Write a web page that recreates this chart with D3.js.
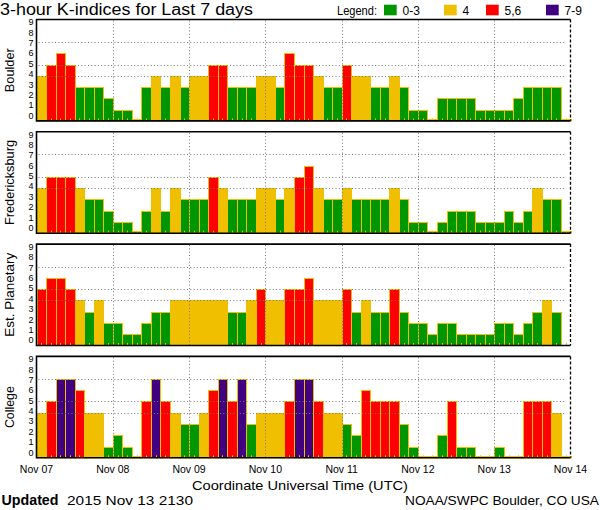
<!DOCTYPE html>
<html><head><meta charset="utf-8">
<script src="https://cdn.jsdelivr.net/npm/d3@7/dist/d3.min.js"></script>
<style>
html,body{margin:0;padding:0;background:#fff;}
svg{display:block;}
text{font-family:"Liberation Sans",Arial,sans-serif;fill:#000;}
</style></head>
<body>
<svg id="chart" width="600" height="510"></svg>
<script>
// ---- data ----
const stations = ["Boulder", "Fredericksburg", "Est. Planetary", "College"];
const boulder = [4,5,6,5,3,3,3,2, 1,1,0,3,4,3,4,3, 4,4,5,5,3,3,3,4, 4,3,6,5,5,4,3,3, 5,4,4,3,3,4,3,1, 1,0,2,2,2,2,1,1, 1,1,2,3,3,3,3,0];
const fredericksburg = [4,5,5,5,4,3,3,2, 1,1,0,2,4,2,4,3, 3,3,5,4,3,3,3,4, 4,3,4,5,6,4,3,3, 4,3,3,3,3,4,3,1, 1,0,1,2,2,2,1,1, 1,2,1,2,4,3,3,0];
const planetary = [5,6,6,5,4,3,4,2, 2,1,1,2,3,3,4,4, 4,4,4,4,3,3,4,5, 4,4,5,5,6,4,4,4, 5,3,4,3,3,5,3,2, 2,1,2,2,1,1,1,1, 2,2,1,2,3,4,3,null];
const college = [4,5,7,7,6,4,4,1, 2,1,0,5,7,5,4,3, 3,4,6,7,5,7,3,4, 4,4,5,7,7,5,4,4, 3,2,6,5,5,5,3,1, 0,0,2,5,1,1,0,0, 1,0,0,5,5,5,4,0];
const series = [boulder, fredericksburg, planetary, college];
const dayLabels = ["Nov 07","Nov 08","Nov 09","Nov 10","Nov 11","Nov 12","Nov 13","Nov 14"];
const yTicks = [0,1,2,3,4,5,6,7,8,9];
const gridLevels = [4,5,7];
const legendLabels = ["0-3","4","5,6","7-9"];
const title = "3-hour K-indices for Last 7 days";
const xTitle = "Coordinate Universal Time (UTC)";
const updatedStamp = "2015 Nov 13 2130";
const credit = "NOAA/SWPC Boulder, CO USA";

// ---- layout ----
const colors = {green:"#009600", gold:"#f0c000", red:"#ff0000", purple:"#400080"};
const legendColors = [colors.green, colors.gold, colors.red, colors.purple];
function kColor(k){ return k<=3?colors.green : k===4?colors.gold : k<=6?colors.red : colors.purple; }

const svg = d3.select("#chart");
const left = 36.5, right = 570.5;
const panelTop0 = 19.5, panelStep = 112.3, panelH = 101.4;

const start = new Date(Date.UTC(2015,10,7));
const end = new Date(Date.UTC(2015,10,14));
const x = d3.scaleUtc().domain([start,end]).range([left,right]);
const slotMs = 3*3600*1000;
const slotTime = i => new Date(start.getTime()+i*slotMs);
const dayTimes = dayLabels.map((d,i)=>new Date(start.getTime()+i*24*3600*1000));
const xs = i => Math.round(x(slotTime(i)));

// title
svg.append("text").attr("x",0).attr("y",15).attr("font-size",16)
  .attr("textLength",253).attr("lengthAdjust","spacingAndGlyphs").text(title);

// legend
const lg = svg.append("g");
lg.append("text").attr("x",337).attr("y",15).attr("font-size",12)
  .attr("textLength",40).attr("lengthAdjust","spacingAndGlyphs").text("Legend:");
const legX = [384, 444, 486, 546];
legendLabels.forEach((l,i)=>{
  lg.append("rect").attr("x",legX[i]).attr("y",4.7).attr("width",12.7).attr("height",10.6).attr("fill",legendColors[i]);
  lg.append("text").attr("x",legX[i]+18.5).attr("y",15).attr("font-size",12).text(l);
});

series.forEach((vals,p)=>{
  const top = panelTop0 + p*panelStep, bottom = top+panelH;
  const y = d3.scaleLinear().domain([0,9]).range([bottom,top]);
  const yLab = d3.scaleLinear().domain([0,9]).range([bottom-5.5, top+2.6]);
  const g = svg.append("g");

  // bars
  const data = vals.map((v,i)=>({v,i})).filter(d=>d.v!==null);
  g.selectAll("rect.bar").data(data).enter().append("rect")
    .attr("class","bar")
    .attr("x",d=>xs(d.i)+0.5)
    .attr("width",d=>xs(d.i+1)-xs(d.i))
    .attr("y",d=>Math.round(Math.min(y(d.v), bottom-2))+0.5)
    .attr("height",d=>bottom-Math.round(Math.min(y(d.v), bottom-2))-0.5)
    .attr("fill",d=>kColor(d.v))
    .attr("stroke",colors.gold).attr("stroke-width",1);

  // small gold marks at slot centres
  g.selectAll("line.mk").data(d3.range(vals.length)).enter().append("line")
    .attr("x1",i=>Math.round((x(slotTime(i))+x(slotTime(i+1)))/2)+0.5)
    .attr("x2",i=>Math.round((x(slotTime(i))+x(slotTime(i+1)))/2)+0.5)
    .attr("y1",bottom-2.5).attr("y2",bottom)
    .attr("stroke",colors.gold).attr("stroke-width",1);

  // grid
  g.selectAll("line.hg").data(gridLevels).enter().append("line")
    .attr("x1",left+2).attr("x2",right-4)
    .attr("y1",d=>Math.round(y(d))+0.5).attr("y2",d=>Math.round(y(d))+0.5)
    .attr("stroke","#777").attr("stroke-dasharray","1,2.3");
  g.selectAll("line.vg").data(dayTimes.slice(1,-1)).enter().append("line")
    .attr("x1",d=>Math.round(x(d))+0.5).attr("x2",d=>Math.round(x(d))+0.5)
    .attr("y1",top+1).attr("y2",bottom)
    .attr("stroke","#777").attr("stroke-dasharray","1,2.3");

  // frame
  g.append("path").attr("d",`M${right},${top}H${left}V${bottom}H${right}`)
    .attr("fill","none").attr("stroke","#000").attr("stroke-width",1.6);
  g.append("line").attr("x1",right).attr("x2",right).attr("y1",top).attr("y2",bottom)
    .attr("stroke","#000").attr("stroke-width",1.3).attr("stroke-dasharray","3,2");

  // y tick labels
  g.selectAll("text.yt").data(yTicks).enter().append("text")
    .attr("x",33.5).attr("y",d=>yLab(d)).attr("dy","0.36em")
    .attr("text-anchor","end").attr("font-size",9).text(d=>d);

  // station label
  const lens = [44, 85, 84, 42];
  g.append("text").attr("transform",`translate(13.5,${(top+bottom)/2}) rotate(-90)`)
    .attr("text-anchor","middle").attr("font-size",13.5)
    .attr("textLength",lens[p]).attr("lengthAdjust","spacingAndGlyphs")
    .text(stations[p]);
});

// x axis labels (bottom panel)
svg.append("g").selectAll("text").data(dayLabels).enter().append("text")
  .attr("x",(d,i)=>x(dayTimes[i])).attr("y",472.5)
  .attr("text-anchor","middle").attr("font-size",10.5).text(d=>d);

svg.append("text").attr("x",300).attr("y",489.5).attr("text-anchor","middle")
  .attr("font-size",13).attr("textLength",216).attr("lengthAdjust","spacingAndGlyphs").text(xTitle);

svg.append("text").attr("x",1.5).attr("y",504.5).attr("font-size",14)
  .attr("font-family","DejaVu Serif").attr("font-weight","bold")
  .attr("textLength",57).attr("lengthAdjust","spacingAndGlyphs").text("Updated");
svg.append("text").attr("x",67).attr("y",504.5).attr("font-size",13.5)
  .attr("textLength",126).attr("lengthAdjust","spacingAndGlyphs").text(updatedStamp);
svg.append("text").attr("x",405).attr("y",504.5).attr("font-size",13.5)
  .attr("textLength",194).attr("lengthAdjust","spacingAndGlyphs").text(credit);
</script>
</body></html>
